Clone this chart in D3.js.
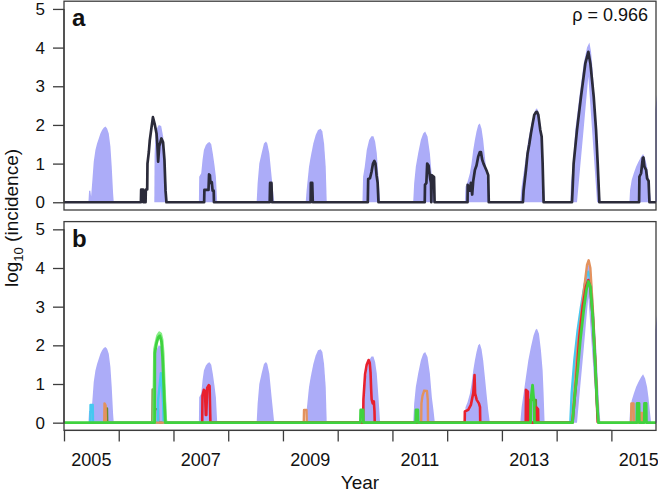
<!DOCTYPE html>
<html><head><meta charset="utf-8">
<script src="https://cdn.jsdelivr.net/npm/d3@7/dist/d3.min.js"></script>
<style>
body{margin:0;background:#fff}
svg{display:block}
text{font-family:"Liberation Sans",Arial,Helvetica,sans-serif;fill:#111}
</style>
</head><body>
<svg id="c" width="658" height="494"></svg>
<script>
// ---------------- DATA ----------------
const yearTicks = [2005,2006,2007,2008,2009,2010,2011,2012,2013,2014,2015];
const yearLabels = [2005,2007,2009,2011,2013,2015];
const yTicks = [0,1,2,3,4,5];
const panelLetters = ["a","b"];
const rhoLabel = "ρ = 0.966";

// upper bound of the simulated envelope, one list per season
const envelopeUpper = [
 [[2005.446,0],[2005.458,0.3],[2005.482,0.3],[2005.495,0.15],[2005.519,0.58],[2005.543,1.05],[2005.574,1.35],[2005.604,1.52],[2005.635,1.65],[2005.665,1.78],[2005.696,1.87],[2005.726,1.93],[2005.757,1.96],[2005.787,1.91],[2005.818,1.78],[2005.848,1.44],[2005.872,0.92],[2005.897,0.23],[2005.909,0]],
 [[2006.65,0],[2006.655,1.2],[2006.671,1.79],[2006.702,1.92],[2006.732,2.0],[2006.775,1.97],[2006.811,1.71],[2006.842,1.1],[2006.866,0.5],[2006.885,0]],
 [[2007.464,0],[2007.47,0.66],[2007.507,0.75],[2007.531,1.1],[2007.556,1.35],[2007.592,1.48],[2007.629,1.54],[2007.659,1.56],[2007.69,1.5],[2007.72,1.25],[2007.75,0.95],[2007.775,0.66],[2007.799,0]],
 [[2008.519,0],[2008.537,0.49],[2008.568,1.0],[2008.61,1.27],[2008.653,1.52],[2008.69,1.57],[2008.714,1.52],[2008.751,1.27],[2008.793,0.66],[2008.836,0.06],[2008.854,0]],
 [[2009.415,0],[2009.433,0.32],[2009.476,0.92],[2009.507,1.18],[2009.555,1.52],[2009.598,1.74],[2009.641,1.87],[2009.69,1.9],[2009.72,1.83],[2009.751,1.52],[2009.781,0.92],[2009.8,0]],
 [[2010.452,0],[2010.464,0.66],[2010.494,0.92],[2010.531,1.35],[2010.574,1.61],[2010.616,1.71],[2010.653,1.71],[2010.684,1.57],[2010.714,1.27],[2010.745,0.66],[2010.775,0]],
 [[2011.379,0],[2011.397,0.49],[2011.427,0.92],[2011.47,1.27],[2011.519,1.61],[2011.562,1.78],[2011.598,1.83],[2011.641,1.7],[2011.684,1.27],[2011.72,0.66],[2011.75,0.32],[2011.775,0]],
 [[2012.323,0],[2012.335,0.4],[2012.372,0.53],[2012.415,0.75],[2012.445,1.0],[2012.476,1.35],[2012.506,1.61],[2012.536,1.83],[2012.567,2.0],[2012.597,2.04],[2012.628,1.9],[2012.658,1.61],[2012.689,1.18],[2012.719,0.75],[2012.75,0.32],[2012.78,0]],
 [[2013.335,0],[2013.36,0.4],[2013.396,0.75],[2013.439,1.18],[2013.482,1.61],[2013.53,1.96],[2013.579,2.26],[2013.616,2.4],[2013.64,2.43],[2013.677,2.3],[2013.713,1.87],[2013.744,1.35],[2013.762,0.75],[2013.78,0]],
 [[2014.25,0],[2014.262,0.5],[2014.299,1.0],[2014.341,1.87],[2014.415,2.73],[2014.494,3.59],[2014.555,4.0],[2014.598,4.13],[2014.628,3.9],[2014.653,3.5],[2014.689,2.73],[2014.726,1.87],[2014.756,1.0],[2014.78,0.4],[2014.799,0]],
 [[2015.329,0],[2015.341,0.32],[2015.372,0.58],[2015.409,0.75],[2015.451,0.92],[2015.494,1.05],[2015.543,1.18],[2015.579,1.25],[2015.616,1.14],[2015.652,0.92],[2015.677,0.66],[2015.701,0.32],[2015.726,0]],
 [[2015.8,0],[2015.802,2.4],[2015.85,3.0]]
];
// lower bound of the envelope (empty = zero floor)
const envelopeLower = [
 [],[],[],[],[],[],[],[],[],
 [[2014.372,0],[2014.433,0.96],[2014.494,1.9],[2014.537,2.6],[2014.579,3.25],[2014.616,2.5],[2014.653,1.75],[2014.689,1.0],[2014.726,0.25],[2014.738,0]],
 [],[]
];

// panel a: observed incidence
const observed = [
 [2005,0],[2006.405,0],[2006.41,0.33],[2006.445,0.33],[2006.45,0],
 [2006.49,0],[2006.495,0.33],[2006.52,0.33],[2006.525,1.0],[2006.55,1.3],[2006.567,1.6],[2006.6,1.95],[2006.625,2.2],[2006.66,2.0],[2006.69,1.78],[2006.705,1.5],[2006.72,1.05],[2006.74,1.45],[2006.76,1.55],[2006.78,1.65],[2006.81,1.55],[2006.835,1.1],[2006.855,0.3],[2006.872,0],
 [2007.56,0],[2007.565,0.32],[2007.64,0.32],[2007.65,0.72],[2007.665,0.7],[2007.675,0.5],[2007.7,0.52],[2007.715,0.3],[2007.735,0.3],[2007.74,0],
 [2008.758,0],[2008.765,0.5],[2008.79,0.5],[2008.8,0],
 [2009.505,0],[2009.51,0.5],[2009.535,0.5],[2009.545,0],
 [2010.55,0],[2010.557,0.6],[2010.59,0.62],[2010.62,0.8],[2010.645,1.0],[2010.67,1.07],[2010.69,1.0],[2010.71,0.7],[2010.73,0.5],[2010.745,0],
 [2011.59,0],[2011.595,0.45],[2011.62,0.5],[2011.635,1.0],[2011.66,0.95],[2011.69,0.6],[2011.705,0.5],[2011.71,0],[2011.72,0.7],[2011.76,0.65],[2011.77,0],
 [2012.372,0],[2012.375,0.45],[2012.415,0.3],[2012.433,0.5],[2012.457,0.2],[2012.476,0.55],[2012.506,0.83],[2012.536,0.95],[2012.567,1.18],[2012.597,1.3],[2012.616,1.3],[2012.64,1.1],[2012.664,1.0],[2012.689,0.92],[2012.725,0.8],[2012.75,0.7],[2012.76,0],
 [2013.384,0],[2013.396,0.3],[2013.439,0.83],[2013.47,1.27],[2013.5,1.5],[2013.53,1.78],[2013.561,2.03],[2013.591,2.26],[2013.622,2.33],[2013.64,2.34],[2013.665,2.26],[2013.701,1.87],[2013.726,1.7],[2013.744,1.0],[2013.762,0],
 [2014.28,0],[2014.29,0.3],[2014.31,1.0],[2014.372,1.87],[2014.445,2.73],[2014.524,3.59],[2014.579,3.89],[2014.616,3.59],[2014.677,2.73],[2014.72,1.87],[2014.75,1.0],[2014.78,0],
 [2015.506,0],[2015.512,0.66],[2015.543,0.75],[2015.573,1.14],[2015.585,1.16],[2015.604,0.92],[2015.634,0.84],[2015.652,0.62],[2015.68,0.55],[2015.695,0],
 [2015.815,0]
];

// panel b: individual model runs
const runOlive = [[2005.755,0],[2005.76,0.37],[2005.785,0.37],[2005.79,0],
 [2006.615,0],[2006.62,0.86],[2006.655,0.86],[2006.66,0],
 [2013.5,0],[2013.505,0.59],[2013.62,0.59],[2013.625,0]];
const runGray = [[2006.655,0],[2006.66,0.35],[2006.715,0.35],[2006.72,0]];
const runCyan = [[2005.48,0],[2005.485,0.46],[2005.525,0.46],[2005.53,0],
 [2006.715,0],[2006.72,0.6],[2006.75,1.0],[2006.77,1.28],[2006.79,1.0],[2006.81,0.5],[2006.82,0],
 [2014.25,0],[2014.274,0.76],[2014.323,1.62],[2014.384,2.4],[2014.445,3.0],[2014.506,3.52],[2014.555,3.86],[2014.579,3.9],[2014.616,3.69],[2014.659,2.91],[2014.701,1.71],[2014.738,0.5],[2014.762,0]];
const runOrange = [[2005.735,0],[2005.74,0.5],[2005.76,0.45],[2005.765,0],
 [2009.38,0],[2009.385,0.33],[2009.43,0.33],[2009.435,0],
 [2011.525,0],[2011.53,0.5],[2011.55,0.7],[2011.58,0.83],[2011.63,0.82],[2011.645,0.6],[2011.65,0],
 [2014.28,0],[2014.323,0.76],[2014.384,1.97],[2014.445,2.74],[2014.506,3.52],[2014.555,4.08],[2014.585,4.2],[2014.616,4.0],[2014.659,3.0],[2014.701,1.8],[2014.738,0.6],[2014.762,0],
 [2015.36,0],[2015.365,0.5],[2015.405,0.5],[2015.41,0],
 [2015.53,0],[2015.535,0.25],[2015.565,0.25],[2015.57,0]];
const runRed = [[2007.525,0],[2007.53,0.7],[2007.555,0.85],[2007.575,0.82],[2007.59,0.2],[2007.6,0.2],[2007.615,0.9],[2007.645,0.97],[2007.66,0.95],[2007.67,0.3],[2007.675,0],
 [2010.465,0],[2010.47,0.6],[2010.5,1.25],[2010.53,1.5],[2010.565,1.62],[2010.585,1.55],[2010.6,1.3],[2010.61,0.9],[2010.62,0.6],[2010.64,0.5],[2010.66,0.55],[2010.672,0.3],[2010.677,0],
 [2012.32,0],[2012.323,0.29],[2012.385,0.33],[2012.433,0.46],[2012.476,0.76],[2012.5,1.23],[2012.51,0.76],[2012.54,0.59],[2012.58,0.5],[2012.6,0.4],[2012.604,0],
 [2013.435,0],[2013.44,0.85],[2013.475,0.8],[2013.48,0],
 [2013.62,0],[2013.625,0.4],[2013.66,0.35],[2013.665,0],
 [2014.29,0],[2014.354,1.02],[2014.415,2.22],[2014.476,3.0],[2014.537,3.52],[2014.579,3.69],[2014.616,3.48],[2014.659,2.74],[2014.701,1.62],[2014.738,0.41],[2014.75,0]];
const runLightGreen = [[2006.635,0],[2006.64,0.9],[2006.65,1.9],[2006.68,2.1],[2006.705,2.25],[2006.74,2.33],[2006.77,2.3],[2006.795,2.15],[2006.815,1.8],[2006.83,1.2],[2006.845,0.6],[2006.86,0.1],[2006.87,0]];
const runGreen = [[2005,0],
 [2006.655,0],[2006.66,1.8],[2006.69,2.05],[2006.72,2.2],[2006.75,2.25],[2006.78,2.1],[2006.8,1.7],[2006.82,1.0],[2006.84,0.3],[2006.85,0],
 [2010.415,0],[2010.42,0.33],[2010.465,0.33],[2010.47,0],
 [2011.425,0],[2011.43,0.33],[2011.465,0.33],[2011.47,0],
 [2013.525,0],[2013.53,0.6],[2013.56,0.97],[2013.575,0.7],[2013.59,0.5],[2013.595,0],
 [2014.29,0],[2014.335,0.76],[2014.384,1.36],[2014.433,2.14],[2014.494,2.91],[2014.543,3.43],[2014.579,3.65],[2014.616,3.52],[2014.659,2.74],[2014.701,1.62],[2014.738,0.5],[2014.762,0],
 [2015.465,0],[2015.47,0.5],[2015.505,0.5],[2015.51,0],
 [2015.6,0],[2015.605,0.5],[2015.635,0.5],[2015.64,0],
 [2015.815,0]];

const runs = [
 {data: runOlive, color: "#6e8a2c", w: 2.4},
 {data: runGray, color: "#7c7c7c", w: 2.4},
 {data: runCyan, color: "#46c8f0", w: 2.4},
 {data: runOrange, color: "#e3925e", w: 2.4},
 {data: runRed, color: "#e8202e", w: 2.6},
 {data: runLightGreen, color: "#86ee86", w: 2.4},
 {data: runGreen, color: "#3fd23f", w: 2.8}
];

// ---------------- DRAW ----------------
const svg = d3.select("#c");
const x = d3.scaleLinear().domain([2005, 2015.815]).range([64, 656]);
const panels = [
  {y: d3.scaleLinear().domain([-0.2, 5.2]).range([210, 1.2]), letter: panelLetters[0]},
  {y: d3.scaleLinear().domain([-0.2, 5.2]).range([430.4, 221.6]), letter: panelLetters[1]}
];
const envColor = "#acacf8";
const frame = "#3d3d3d";

panels.forEach((p, i) => {
  const [y0, y1] = p.y.range();
  const id = "clip" + i;
  svg.append("clipPath").attr("id", id).append("rect")
    .attr("x", x.range()[0]).attr("y", y1).attr("width", x.range()[1] - x.range()[0] + 1).attr("height", y0 - y1);
  const g = svg.append("g").attr("clip-path", `url(#${id})`);
  const line = d3.line().x(d => x(d[0])).y(d => p.y(d[1]));
  envelopeUpper.forEach((up, k) => {
    let lo = envelopeLower[k];
    if (!lo.length) lo = [[up[0][0], 0], [up[up.length - 1][0], 0]];
    const pts = up.concat(lo.slice().reverse());
    g.append("path").attr("d", line(pts) + "Z").attr("fill", envColor).attr("stroke", "none");
  });
  if (i === 0) {
    g.append("path").attr("d", line(observed)).attr("fill", "none")
      .attr("stroke", "#2b2b3a").attr("stroke-width", 2.7).attr("stroke-linejoin", "round");
  } else {
    runs.forEach(r => {
      g.append("path").attr("d", line(r.data)).attr("fill", "none")
        .attr("stroke", r.color).attr("stroke-width", r.w).attr("stroke-linejoin", "round");
    });
  }
  // box
  svg.append("rect").attr("x", x.range()[0]).attr("y", y1)
    .attr("width", x.range()[1] - x.range()[0]).attr("height", y0 - y1)
    .attr("fill", "none").attr("stroke", frame).attr("stroke-width", 1.3);
  // y axis
  const ax = svg.append("g").attr("transform", `translate(${x.range()[0]},0)`)
    .call(d3.axisLeft(p.y).tickValues(yTicks).tickSize(11).tickPadding(8).tickFormat(d3.format("d")));
  ax.select(".domain").attr("d", `M0,${p.y(0)}V${p.y(5)}`).attr("stroke", frame).attr("stroke-width", 1.3);
  ax.selectAll(".tick line").attr("stroke", frame).attr("stroke-width", 1.3);
  ax.selectAll(".tick text").attr("font-size", 17).attr("font-family", "Liberation Sans, Arial, sans-serif").attr("fill", "#111");
  // panel letter
  svg.append("text").attr("x", 72).attr("y", y1 + 25).attr("font-size", 24).attr("font-weight", "bold").text(p.letter);
});

// rho
svg.append("text").attr("x", 648).attr("y", 21).attr("text-anchor", "end").attr("font-size", 18).text(rhoLabel);

// x axis below panel b
const yb = panels[1].y.range()[0];
const xa = svg.append("g").attr("transform", `translate(0,${yb})`)
  .call(d3.axisBottom(x).tickValues(yearTicks).tickSize(11).tickFormat(""));
xa.select(".domain").attr("d", `M${x(2005)},0H${x(2015)}`).attr("stroke", frame).attr("stroke-width", 1.3);
xa.selectAll(".tick line").attr("stroke", frame).attr("stroke-width", 1.3);
svg.append("g").selectAll("text").data(yearLabels).join("text")
  .attr("x", d => x(d + 0.5)).attr("y", 466).attr("text-anchor", "middle").attr("font-size", 18)
  .text(d => d);

// axis titles
svg.append("text").attr("x", x((2005 + 2015.815) / 2)).attr("y", 489).attr("text-anchor", "middle")
  .attr("font-size", 19).text("Year");
const yt = svg.append("text").attr("transform", "translate(18,218) rotate(-90)").attr("text-anchor", "middle").attr("font-size", 19);
yt.append("tspan").text("log");
yt.append("tspan").attr("font-size", 13).attr("dy", 5).text("10");
yt.append("tspan").attr("dy", -5).text(" (incidence)");
</script>
</body></html>
